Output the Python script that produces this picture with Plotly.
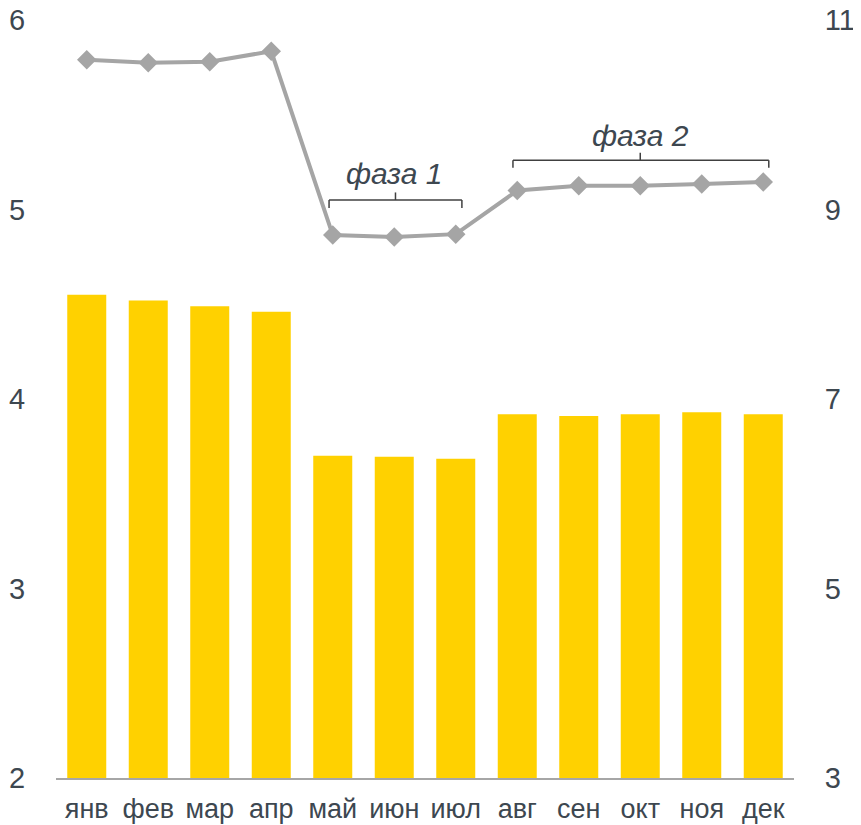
import plotly.graph_objects as go

months = ["янв", "фев", "мар", "апр", "май", "июн", "июл", "авг", "сен", "окт", "ноя", "дек"]
bar_values = [4.55, 4.52, 4.49, 4.46, 3.70, 3.695, 3.685, 3.92, 3.91, 3.92, 3.93, 3.92]
line_values = [10.58, 10.55, 10.56, 10.67, 8.73, 8.71, 8.74, 9.20, 9.25, 9.25, 9.27, 9.29]
left_ticks = [2, 3, 4, 5, 6]
right_ticks = [3, 5, 7, 9, 11]
phase_labels = ["фаза 1", "фаза 2"]

FONT = "Liberation Sans, Arial, sans-serif"
TXT = "#3d4750"

fig = go.Figure()
fig.add_trace(go.Bar(x=months, y=bar_values, marker=dict(color="#FFD100", line=dict(width=0)),
                     yaxis="y", showlegend=False))
fig.add_trace(go.Scatter(x=months, y=line_values, yaxis="y2", mode="lines+markers",
                         line=dict(color="#a5a5a5", width=4),
                         marker=dict(symbol="diamond", size=15, color="#a5a5a5"),
                         showlegend=False))

# brackets (category index coordinates)
def bracket(xa, xb, xm, yline, yend, ytop):
    c = "#404040"
    w = 1.5
    shapes = [
        dict(type="line", xref="x", yref="y", x0=xa, x1=xb, y0=yline, y1=yline, line=dict(color=c, width=w)),
        dict(type="line", xref="x", yref="y", x0=xa, x1=xa, y0=yline, y1=yend, line=dict(color=c, width=w)),
        dict(type="line", xref="x", yref="y", x0=xb, x1=xb, y0=yline, y1=yend, line=dict(color=c, width=w)),
        dict(type="line", xref="x", yref="y", x0=xm, x1=xm, y0=yline, y1=ytop, line=dict(color=c, width=w)),
    ]
    return shapes

shapes = bracket(3.94, 6.1, 5.02, 5.05, 5.008, 5.09) + bracket(6.93, 11.09, 9.0, 5.26, 5.22, 5.30)

fig.add_annotation(x=5.0, y=5.19, xref="x", yref="y", text=phase_labels[0], showarrow=False,
                   font=dict(family=FONT, size=30, color=TXT, style="italic"), yanchor="middle")
fig.add_annotation(x=9.0, y=5.39, xref="x", yref="y", text=phase_labels[1], showarrow=False,
                   font=dict(family=FONT, size=30, color=TXT, style="italic"), yanchor="middle")

fig.update_layout(
    width=861, height=825,
    margin=dict(l=48, r=75, t=12, b=55, autoexpand=False),
    paper_bgcolor="white", plot_bgcolor="white",
    bargap=0.366,
    shapes=shapes,
    font=dict(family=FONT, color=TXT),
    xaxis=dict(type="category", range=[-0.5, len(months) - 0.5],
               showline=True, linecolor="#a6a6a6", linewidth=2, automargin=False,
               ticks="outside", ticklen=6, tickcolor="rgba(0,0,0,0)", ticklabeloverflow="allow",
               tickfont=dict(size=27, color=TXT, family=FONT), showgrid=False, zeroline=False),
    yaxis=dict(range=[2, 6], tickvals=left_ticks, showgrid=False, zeroline=False, showline=False,
               automargin=False, ticklabeloverflow="allow",
               ticks="outside", ticklen=24, tickcolor="rgba(0,0,0,0)",
               tickfont=dict(size=29, color=TXT, family=FONT)),
    yaxis2=dict(range=[3, 11], tickvals=right_ticks, overlaying="y", side="right",
                showgrid=False, zeroline=False, showline=False, automargin=False,
                ticklabeloverflow="allow",
                ticks="outside", ticklen=24, tickcolor="rgba(0,0,0,0)",
                tickfont=dict(size=29, color=TXT, family=FONT)),
)

fig.write_html("out.html")
